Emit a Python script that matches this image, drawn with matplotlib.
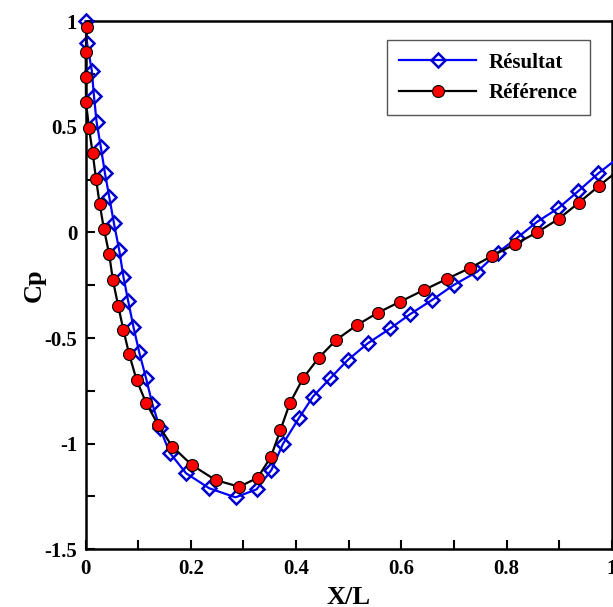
import matplotlib
matplotlib.use("Agg")
import matplotlib.pyplot as plt
from matplotlib.ticker import MultipleLocator, FuncFormatter

plt.rcParams['font.family'] = ['Liberation Serif', 'DejaVu Serif']
plt.rcParams['axes.unicode_minus'] = False

# Résultat (blue diamonds)
res_x = [0.0, 0.003, 0.012, 0.016, 0.021, 0.029, 0.037, 0.045, 0.054, 0.064,
         0.072, 0.081, 0.091, 0.102, 0.115, 0.127, 0.141, 0.160, 0.191, 0.235,
         0.285, 0.325, 0.353, 0.375, 0.405, 0.432, 0.465, 0.498, 0.536, 0.579,
         0.617, 0.658, 0.699, 0.744, 0.783, 0.819, 0.858, 0.898, 0.936, 0.974,
         1.02]
res_y = [1.0, 0.896, 0.766, 0.648, 0.525, 0.406, 0.280, 0.170, 0.044, -0.083,
         -0.209, -0.324, -0.446, -0.567, -0.690, -0.812, -0.924, -1.043, -1.140, -1.211,
         -1.254, -1.216, -1.125, -1.001, -0.880, -0.777, -0.690, -0.604, -0.525, -0.454,
         -0.386, -0.320, -0.249, -0.186, -0.095, -0.027, 0.051, 0.115, 0.196, 0.280,
         0.37]

# Référence (red circles)
ref_x = [0.002, 0.0005, 0.0005, 0.001, 0.0066, 0.0137, 0.020, 0.027, 0.035, 0.045,
         0.052, 0.062, 0.072, 0.083, 0.097, 0.115, 0.138, 0.165, 0.202, 0.247,
         0.292, 0.327, 0.352, 0.370, 0.388, 0.413, 0.443, 0.476, 0.515, 0.556,
         0.598, 0.643, 0.687, 0.731, 0.773, 0.816, 0.858, 0.899, 0.937, 0.975,
         1.02]
ref_y = [0.974, 0.853, 0.738, 0.616, 0.495, 0.375, 0.253, 0.134, 0.017, -0.103,
         -0.225, -0.346, -0.462, -0.577, -0.698, -0.806, -0.911, -1.014, -1.101, -1.172,
         -1.204, -1.161, -1.063, -0.937, -0.809, -0.691, -0.593, -0.509, -0.439, -0.379,
         -0.327, -0.272, -0.219, -0.167, -0.110, -0.055, 0.001, 0.065, 0.141, 0.220,
         0.31]

x_ticks = [0, 0.2, 0.4, 0.6, 0.8, 1]
y_ticks = [-1.5, -1, -0.5, 0, 0.5, 1]

W, H = 613, 607
fig = plt.figure(figsize=(W / 100, H / 100), dpi=100)
left, right, top, bottom = 85.5, 612, 21.3, 549.3
ax = fig.add_axes([left / W, 1 - bottom / H, (right - left) / W, (bottom - top) / H])

n_res = len(res_x) - 1
n_ref = len(ref_x) - 1
ax.plot(res_x, res_y, color='#0000FF', lw=1.6, marker='D', ms=7.2,
        mfc='none', mec='#0000CC', mew=1.8, markevery=list(range(n_res)),
        clip_on=False, label='Résultat', zorder=3)
ax.plot(ref_x, ref_y, color='black', lw=1.6, marker='o', ms=8.6,
        mfc='#FF0000', mec='black', mew=0.8, markevery=list(range(n_ref)),
        clip_on=False, label='Référence', zorder=4)

ax.set_xlim(0, 1)
ax.set_ylim(-1.5, 1)
ax.set_xticks(x_ticks)
ax.set_yticks(y_ticks)
ax.xaxis.set_minor_locator(MultipleLocator(0.1))
ax.yaxis.set_minor_locator(MultipleLocator(0.25))
fmt = FuncFormatter(lambda v, p: ('%g' % v))
ax.xaxis.set_major_formatter(fmt)
ax.yaxis.set_major_formatter(fmt)
ax.tick_params(which='both', direction='in', length=6.5, width=1.5,
               labelsize=15)
ax.tick_params(axis='x', which='both', pad=7)
ax.tick_params(axis='y', which='both', pad=6)
for lab in ax.get_xticklabels() + ax.get_yticklabels():
    lab.set_fontweight('bold')
for s in ax.spines.values():
    s.set_linewidth(1.8)

ax.set_xlabel('X/L', fontsize=19, fontweight='bold', labelpad=5)
ax.set_ylabel('Cp', fontsize=19, fontweight='bold', labelpad=-1)

leg = ax.legend(loc='upper right',
                bbox_to_anchor=((590 - left) / (right - left), 1 - (40 - top) / (bottom - top)),
                fancybox=False, framealpha=1, edgecolor='#555555',
                prop={'weight': 'bold', 'size': 15}, handlelength=3.7,
                handletextpad=0.6, borderpad=0.6, labelspacing=0.5,
                borderaxespad=0)
leg.get_frame().set_linewidth(1.0)

fig.savefig('out.png', dpi=100)
